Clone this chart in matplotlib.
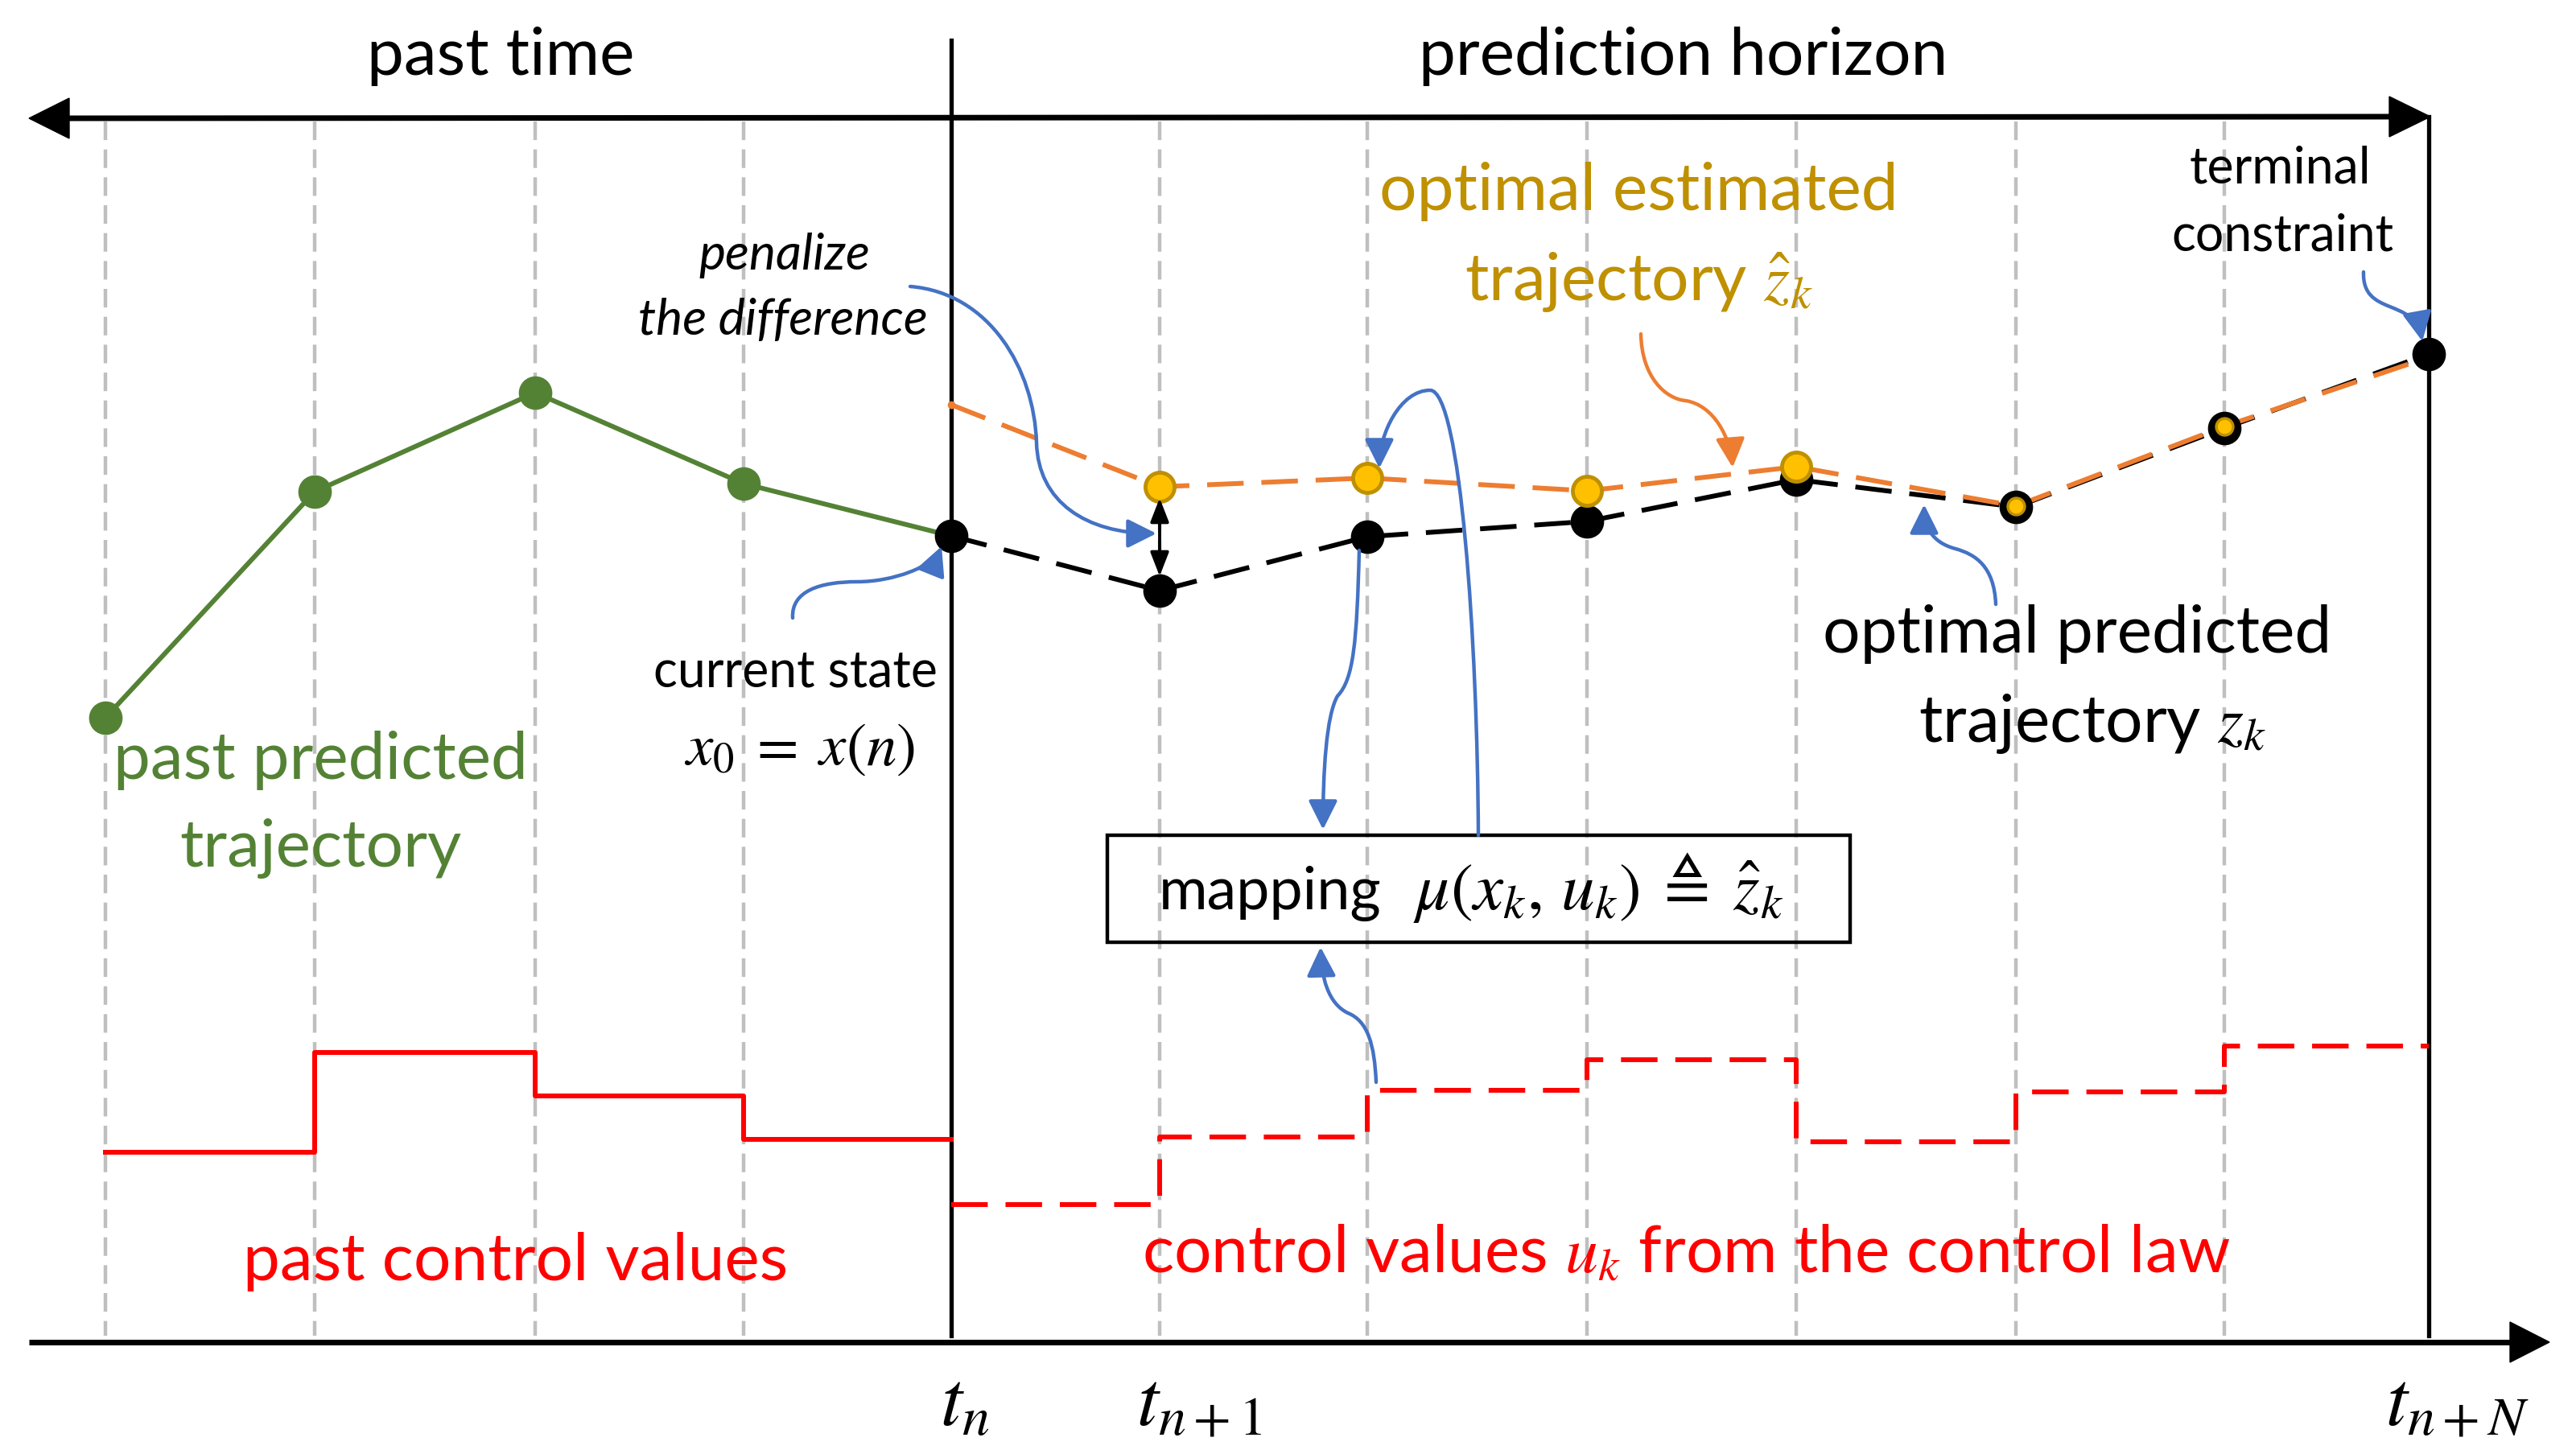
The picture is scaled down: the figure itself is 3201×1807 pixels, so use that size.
import matplotlib.pyplot as plt
from matplotlib.path import Path
from matplotlib.patches import FancyArrowPatch, Polygon, Rectangle

plt.rcParams['font.family'] = ['Lato', 'DejaVu Sans']
plt.rcParams['mathtext.fontset'] = 'stix'

# time grid (pixel positions of sampling instants)
grid_x = [131, 391, 665, 924, 1182, 1441, 1699, 1972, 2232, 2505, 2764, 3018]

# past predicted trajectory (green), up to t_n
past_traj_y = [893, 612, 489, 602, 667]
# optimal predicted trajectory z_k (black), t_n .. t_n+N
pred_traj_y = [667, 735, 668, 649, 597, 631, 533, 441]
# optimal estimated trajectory z_hat_k (orange), t_n .. t_n+N
est_traj_y = [504, 606, 595, 611, 581, 630, 531, 445]
# control values
u_past = [1433, 1309, 1363, 1417]
u_future = [1498, 1414, 1356, 1318, 1420, 1358, 1301]

W, H = 3201, 1808
fig = plt.figure(figsize=(W / 100, H / 100), dpi=100)
ax = fig.add_axes([0, 0, 1, 1])
ax.set_xlim(0, W)
ax.set_ylim(H, 0)
ax.axis('off')

BIG = 59
SMALL = 45
LW = 4.3
GOLD = '#BF9000'
ORANGE = '#ED7D31'
BLUE = '#4472C4'
GREEN = '#548235'
RED = '#FF0000'
DASH = (0, (7.6, 3.7))

# gray dashed grid
for i, x in enumerate(grid_x):
    if i in (4, 11):
        continue
    ax.plot([x, x], [152, 1661], color='#BFBFBF', lw=3.2, ls=(0, (5.2, 2.6)), zorder=1)

# time axes
ax.plot([84, 2970], [148, 146], color='black', lw=5, zorder=3, solid_capstyle='butt')
ax.add_patch(Polygon([(36, 148), (86, 123), (86, 173)], closed=True, color='black', zorder=3))
ax.add_patch(Polygon([(3020, 146), (2969, 121), (2969, 171)], closed=True, color='black', zorder=3))
ax.plot([36, 3120], [1669, 1669], color='black', lw=5, zorder=3, solid_capstyle='butt')
ax.add_patch(Polygon([(3168, 1669), (3119, 1644), (3119, 1694)], closed=True, color='black', zorder=3))
ax.plot([grid_x[4], grid_x[4]], [51, 1661], color='black', lw=3.8, zorder=3)
ax.plot([grid_x[11], grid_x[11]], [146, 1661], color='black', lw=3.8, zorder=3)

# trajectories
ax.plot(grid_x[:5], past_traj_y, color=GREEN, lw=LW, zorder=4)
ax.plot(grid_x[:4], past_traj_y[:4], 'o', color=GREEN, ms=29, zorder=5)
ax.plot(grid_x[4:], pred_traj_y, color='black', lw=LW, ls=DASH, zorder=4)
ax.plot(grid_x[4:], est_traj_y, color=ORANGE, lw=LW, ls=DASH, zorder=5)
ax.plot(grid_x[4], est_traj_y[0], 'o', color=ORANGE, ms=6, zorder=5)
ax.plot(grid_x[4:], pred_traj_y, 'o', color='black', ms=29, zorder=6)
ax.plot(grid_x[5:9], est_traj_y[1:5], 'o', mfc='#FFC000', mec=GOLD, mew=3.5, ms=26, zorder=7)
ax.plot(grid_x[9:11], est_traj_y[5:7], 'o', mfc='#FFC000', mec=GOLD, mew=2.5, ms=15, zorder=7)

# control values
ax.plot(grid_x[:5], u_past + [u_past[-1]], color=RED, lw=LW, drawstyle='steps-post', zorder=4)
ax.plot(grid_x[4:], u_future + [u_future[-1]], color=RED, lw=LW, ls=DASH,
        drawstyle='steps-post', zorder=4)

# difference arrow
ax.annotate('', xy=(grid_x[5], 717), xytext=(grid_x[5], 620),
            arrowprops=dict(arrowstyle='<|-|>,head_length=0.9,head_width=0.35', color='black',
                            lw=2.8, shrinkA=0, shrinkB=0, mutation_scale=20), zorder=8)

# mapping box
ax.add_patch(Rectangle((1376, 1039), 923, 133, fill=False, ec='black', lw=3.2, zorder=8))
ax.text(1440, 1130, 'mapping', fontsize=53, ha='left', va='baseline', zorder=9)
ax.text(1756, 1130, r'$\mu(x_k,\,u_k)\;\triangleq\;\hat{z}_k$', fontsize=60,
        ha='left', va='baseline', zorder=9)


def curve(pts, color=BLUE):
    codes = [Path.MOVETO] + [Path.CURVE4] * (len(pts) - 1)
    arr = FancyArrowPatch(path=Path(pts, codes), arrowstyle='-|>,head_length=1.1,head_width=0.55',
                          color=color, lw=3.2, mutation_scale=20, zorder=9)
    ax.add_patch(arr)


curve([(1131, 357), (1230, 365), (1285, 460), (1288, 551),
       (1290, 625), (1350, 664), (1437, 664)])
curve([(985, 769), (983, 735), (1020, 724), (1065, 724),
       (1110, 724), (1160, 705), (1170, 680)])
curve([(2937, 339), (2935, 395), (3000, 370), (3010, 425)])
curve([(2039, 416), (2040, 470), (2070, 497), (2095, 499),
       (2130, 505), (2150, 545), (2153, 582)], color=ORANGE)
curve([(2480, 752), (2478, 705), (2455, 690), (2430, 683),
       (2400, 675), (2391, 655), (2391, 628)])
curve([(1837, 1039), (1836, 800), (1815, 486), (1777, 486),
       (1740, 486), (1714, 540), (1714, 583)])
curve([(1689, 685), (1686, 800), (1682, 845), (1662, 866),
       (1648, 890), (1644, 960), (1644, 1032)])
curve([(1710, 1346), (1708, 1300), (1700, 1270), (1675, 1260),
       (1650, 1248), (1642, 1215), (1641, 1178)])

# texts
ax.text(622, 70, 'past time', fontsize=BIG, ha='center', va='center')
ax.text(2092, 70, 'prediction horizon', fontsize=BIG, ha='center', va='center')
ax.text(975, 318, 'penalize', fontsize=SMALL, style='italic', ha='center', va='center')
ax.text(973, 398, 'the difference', fontsize=SMALL, style='italic', ha='center', va='center')
ax.text(988, 836, 'current state', fontsize=SMALL, ha='center', va='center')
ax.text(994, 932, r'$x_0\;=\;x(n)$', fontsize=54, ha='center', va='center')
ax.text(398, 945, 'past predicted', fontsize=BIG, color=GREEN, ha='center', va='center')
ax.text(398, 1055, 'trajectory', fontsize=BIG, color=GREEN, ha='center', va='center')
ax.text(2036, 238, 'optimal estimated', fontsize=BIG, color=GOLD, ha='center', va='center')
ax.text(2036, 350, r'trajectory $\hat{z}_k$', fontsize=BIG, color=GOLD, ha='center', va='center')
ax.text(2833, 210, 'terminal', fontsize=SMALL, ha='center', va='center')
ax.text(2836, 293, 'constraint', fontsize=SMALL, ha='center', va='center')
ax.text(2581, 788, 'optimal predicted', fontsize=BIG, ha='center', va='center')
ax.text(2600, 900, r'trajectory $z_k$', fontsize=BIG, ha='center', va='center')
ax.text(641, 1568, 'past control values', fontsize=BIG, color=RED, ha='center', va='center')
ax.text(2095, 1558, r'control values $u_k$ from the control law', fontsize=BIG, color=RED,
        ha='center', va='center')
ax.text(1199, 1745, r'$t_n$', fontsize=70, ha='center', va='center')
ax.text(1490, 1745, r'$t_{n+1}$', fontsize=70, ha='center', va='center')
ax.text(3053, 1745, r'$t_{n+N}$', fontsize=70, ha='center', va='center')

fig.savefig('out.png', dpi=100)
